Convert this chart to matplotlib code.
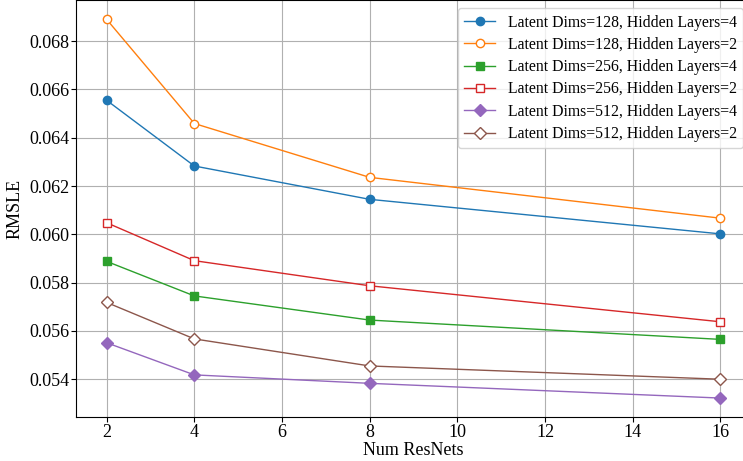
import matplotlib.pyplot as plt

plt.rcParams['font.family'] = ['Liberation Serif', 'DejaVu Serif']
plt.rcParams['mathtext.fontset'] = 'stix'

# data
num_resnets = [2, 4, 8, 16]
ld128_hl4 = [0.06555, 0.06283, 0.06145, 0.06002]
ld128_hl2 = [0.06890, 0.06459, 0.06236, 0.06067]
ld256_hl4 = [0.05888, 0.05745, 0.05645, 0.05565]
ld256_hl2 = [0.06048, 0.05891, 0.05787, 0.05638]
ld512_hl4 = [0.05551, 0.05418, 0.05383, 0.05322]
ld512_hl2 = [0.05718, 0.05567, 0.05455, 0.05400]

series = [
    ('Latent Dims=128, Hidden Layers=4', ld128_hl4, 'tab:blue', 'o', True),
    ('Latent Dims=128, Hidden Layers=2', ld128_hl2, 'tab:orange', 'o', False),
    ('Latent Dims=256, Hidden Layers=4', ld256_hl4, 'tab:green', 's', True),
    ('Latent Dims=256, Hidden Layers=2', ld256_hl2, 'tab:red', 's', False),
    ('Latent Dims=512, Hidden Layers=4', ld512_hl4, 'tab:purple', 'D', True),
    ('Latent Dims=512, Hidden Layers=2', ld512_hl2, 'tab:brown', 'D', False),
]

fig = plt.figure(figsize=(7.43, 4.61), dpi=100)
# the reference is a crop: right spine falls just outside the picture
ax = fig.add_axes([76 / 743, 44 / 461, 675 / 743, 416.5 / 461])

for label, vals, color, marker, filled in series:
    ax.plot(num_resnets, vals, color=color, marker=marker, linewidth=1.0,
            markersize=6, markerfacecolor=color if filled else 'white',
            markeredgecolor=color, label=label)

ax.set_xlabel('Num ResNets', fontsize=13, labelpad=1)
ax.set_ylabel('RMSLE', fontsize=13, labelpad=4)
ax.tick_params(labelsize=13, pad=1.5)
ax.grid(True)
ax.legend(loc='upper right', fontsize=11.3, labelspacing=0.4)

fig.savefig('out.png', dpi=100)
